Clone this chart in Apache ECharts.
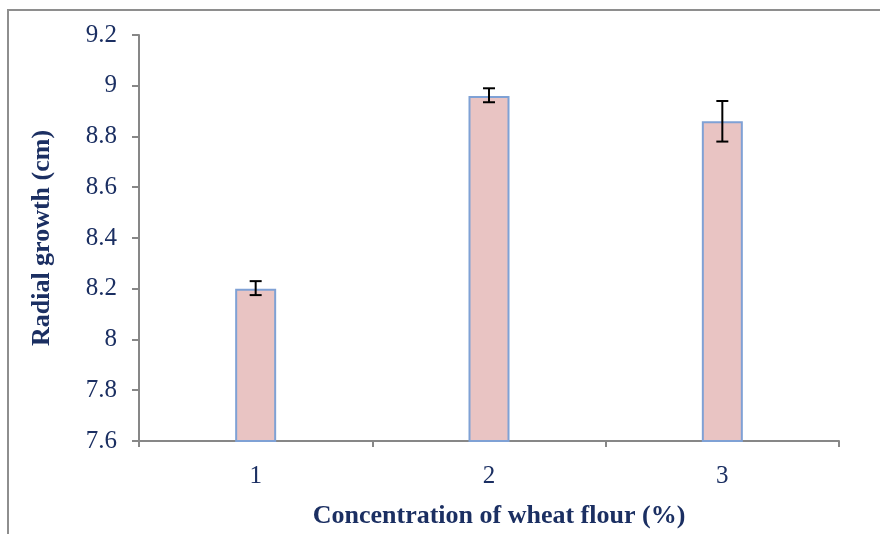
<!DOCTYPE html>
<html>
<head>
<meta charset="utf-8">
<script src="https://cdn.jsdelivr.net/npm/echarts@6/dist/echarts.min.js"></script>
<style>
  html, body { margin: 0; padding: 0; background: #fff; }
  #chart { width: 880px; height: 534px; }
</style>
</head>
<body>
<div id="chart"></div>
<script>
// data
var categories = ["1", "2", "3"];
var growth = [8.2, 8.96, 8.86];
var errLow = [8.175, 8.935, 8.78];
var errHigh = [8.23, 8.99, 8.94];

var textColor = "#1b2f62";
var axisColor = "#878787";

var myChart = echarts.init(document.getElementById("chart"));

var errData = categories.map(function (c, i) {
  return [i, errLow[i], errHigh[i]];
});

myChart.setOption({
  animation: false,
  // outer frame of the picture
  graphic: [
    {
      type: "rect",
      shape: { x: 8, y: 10, width: 900, height: 600 },
      style: { fill: null, stroke: "#8e8e8e", lineWidth: 2 },
      silent: true,
    },
  ],
  grid: { left: 139, right: 41, top: 35, bottom: 93, outerBoundsMode: "none" },
  xAxis: {
    type: "category",
    data: categories,
    name: "Concentration of wheat flour (%)",
    nameLocation: "middle",
    nameGap: 62,
    nameTextStyle: {
      fontFamily: "Liberation Serif",
      fontWeight: "bold",
      fontSize: 26,
      color: textColor,
      padding: [0, 0, 0, 20],
    },
    axisLine: { lineStyle: { color: axisColor, width: 2 } },
    axisTick: { show: true, length: 6, lineStyle: { color: axisColor, width: 2 } },
    axisLabel: {
      fontFamily: "Liberation Serif",
      fontSize: 25,
      color: textColor,
      margin: 23,
    },
  },
  yAxis: {
    type: "value",
    min: 7.6,
    max: 9.2,
    interval: 0.2,
    name: "Radial growth (cm)",
    nameLocation: "middle",
    nameGap: 84,
    nameTextStyle: {
      fontFamily: "Liberation Serif",
      fontWeight: "bold",
      fontSize: 26,
      color: textColor,
    },
    splitLine: { show: false },
    axisLine: { show: true, lineStyle: { color: axisColor, width: 2 } },
    axisTick: { show: true, length: 7, lineStyle: { color: axisColor, width: 2 } },
    axisLabel: {
      fontFamily: "Liberation Serif",
      fontSize: 25,
      color: textColor,
      margin: 22,
      formatter: function (v) {
        return String(Math.round(v * 10) / 10);
      },
    },
  },
  series: [
    {
      name: "Radial growth",
      type: "bar",
      data: growth,
      barWidth: 41,
      itemStyle: {
        color: "#e9c4c3",
        borderColor: "#7fa1d5",
        borderWidth: 2,
      },
    },
    {
      name: "error",
      type: "custom",
      data: errData,
      z: 10,
      renderItem: function (params, api) {
        var x = api.value(0);
        var lo = api.coord([x, api.value(1)]);
        var hi = api.coord([x, api.value(2)]);
        var half = 6;
        var style = { stroke: "#000", lineWidth: 2 };
        return {
          type: "group",
          children: [
            { type: "line", shape: { x1: lo[0], y1: lo[1], x2: hi[0], y2: hi[1] }, style: style },
            { type: "line", shape: { x1: hi[0] - half, y1: hi[1], x2: hi[0] + half, y2: hi[1] }, style: style },
            { type: "line", shape: { x1: lo[0] - half, y1: lo[1], x2: lo[0] + half, y2: lo[1] }, style: style },
          ],
        };
      },
    },
  ],
});
</script>
</body>
</html>
